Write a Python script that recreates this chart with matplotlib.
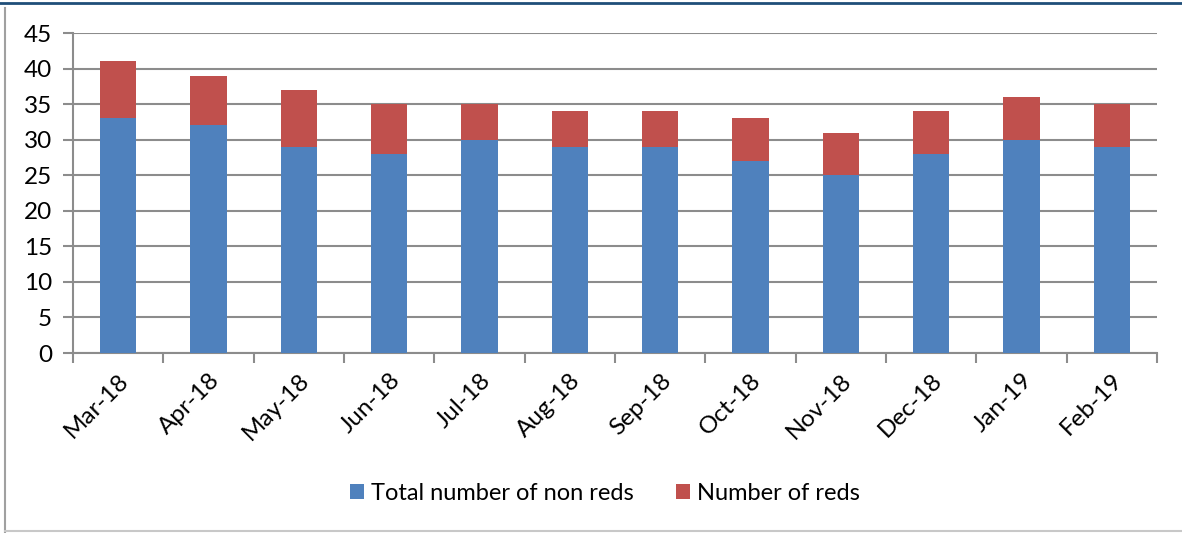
import numpy as np
import matplotlib.pyplot as plt
from matplotlib.lines import Line2D

months = ['Mar-18', 'Apr-18', 'May-18', 'Jun-18', 'Jul-18', 'Aug-18',
          'Sep-18', 'Oct-18', 'Nov-18', 'Dec-18', 'Jan-19', 'Feb-19']
non_reds = [33, 32, 29, 28, 30, 29, 29, 27, 25, 28, 30, 29]
reds = [8, 7, 8, 7, 5, 5, 5, 6, 6, 6, 6, 6]

plt.rcParams['font.family'] = ['Lato', 'DejaVu Sans']

fig = plt.figure(figsize=(11.82, 5.33), dpi=100)
ax = fig.add_axes([73 / 1182, 1 - 353 / 533, (1157 - 73) / 1182, (353 - 33) / 533])

x = np.arange(len(months))
ax.bar(x, non_reds, width=0.4, color='#4F81BD', label='Total number of non reds', zorder=3)
ax.bar(x, reds, width=0.4, bottom=non_reds, color='#C0504D', label='Number of reds', zorder=3)

ax.set_xlim(-0.5, len(months) - 0.5)
ax.set_ylim(0, 45)
ax.set_yticks(np.arange(0, 46, 5))
ax.yaxis.grid(True, color='#8C8C8C', linewidth=1.5, zorder=0)
ax.set_xticks(x)
ax.set_xticklabels(months, rotation=45, ha='right', rotation_mode='anchor')
ax.set_xticks(np.arange(-0.5, len(months)), minor=True)
ax.tick_params(axis='x', which='major', length=0, labelsize=17.5, pad=12)
ax.tick_params(axis='x', which='minor', length=7, color='#8C8C8C', width=1.5)
ax.tick_params(axis='y', length=7, color='#8C8C8C', width=1.5, labelsize=17.5, pad=8)
for s in ['top', 'right']:
    ax.spines[s].set_visible(False)
for s in ['left', 'bottom']:
    ax.spines[s].set_color('#8C8C8C')
    ax.spines[s].set_linewidth(1.5)

ax.legend(loc='center', bbox_to_anchor=(605 / 1182, 1 - 493 / 533),
          bbox_transform=fig.transFigure, ncol=2, frameon=False, fontsize=17,
          handlelength=0.6, handleheight=0.6, columnspacing=1.8, handletextpad=0.3)

# figure frame
fig.add_artist(Line2D([5 / 1182, 5 / 1182], [0, 1 - 8 / 533], transform=fig.transFigure,
                      color='#A0A0A0', linewidth=1.5))
fig.add_artist(Line2D([5 / 1182, 1], [1 - 531 / 533, 1 - 531 / 533], transform=fig.transFigure,
                      color='#C8C8C8', linewidth=1.5))
fig.add_artist(Line2D([0, 1], [1 - 3 / 533, 1 - 3 / 533], transform=fig.transFigure,
                      color='#1F4E79', linewidth=2))

fig.savefig('out.png', dpi=100)
